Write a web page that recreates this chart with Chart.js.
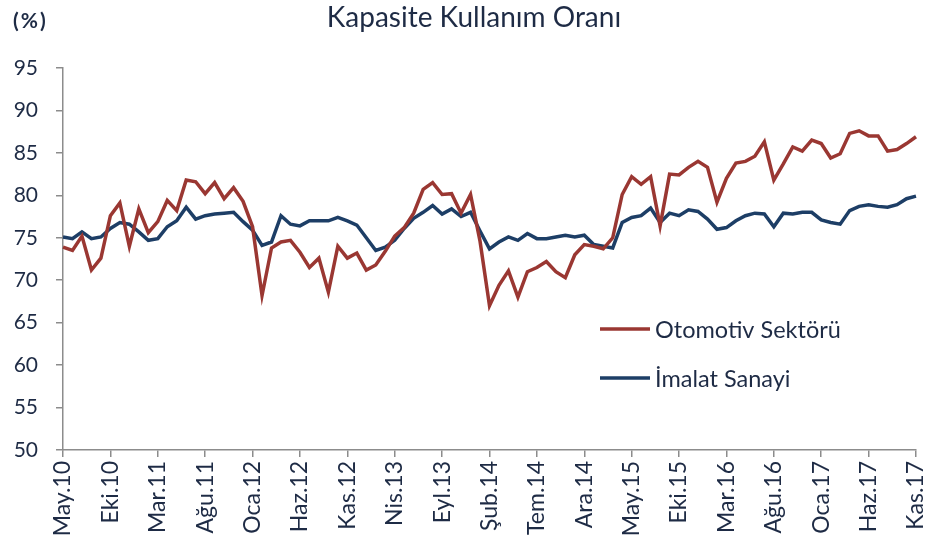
<!DOCTYPE html>
<html>
<head>
<meta charset="utf-8">
<script src="https://cdn.jsdelivr.net/npm/chart.js@4.4.1/dist/chart.umd.min.js"></script>
<style>
html,body{margin:0;padding:0;background:#fff;}
#wrap{position:relative;width:928px;height:550px;}
</style>
</head>
<body>
<div id="wrap"><canvas id="c" width="928" height="550"></canvas></div>
<script>
const monthNames = ["Oca","Şub","Mar","Nis","May","Haz","Tem","Ağu","Eyl","Eki","Kas","Ara"];
const startYear = 2010, startMonth = 4, monthCount = 91;
const categories = [];
for (let k = 0; k < monthCount; k++) {
  const m = (startMonth + k) % 12;
  const y = startYear + Math.floor((startMonth + k) / 12);
  categories.push(monthNames[m] + "." + String(y).slice(2));
}
const otomotiv = [
  73.9,73.5,75.2,71.2,72.6,77.6,79.1,74.0,78.4,75.6,
  76.9,79.4,78.2,81.8,81.6,80.2,81.5,79.6,80.9,79.3,
  76.3,68.2,73.8,74.5,74.7,73.3,71.5,72.6,68.6,74.0,
  72.6,73.2,71.2,71.8,73.4,75.2,76.2,77.9,80.7,81.5,
  80.1,80.2,77.9,80.1,74.6,67.0,69.4,71.1,68.0,71.0,
  71.5,72.2,71.0,70.3,73.0,74.2,74.0,73.7,75.0,80.1,
  82.2,81.3,82.2,76.4,82.5,82.4,83.3,84.0,83.3,79.2,
  82.0,83.8,84.0,84.6,86.3,81.8,83.7,85.7,85.2,86.5,
  86.1,84.4,84.9,87.3,87.6,87.0,87.0,85.2,85.4,86.1,
  86.9
];
const imalat = [
  75.1,74.9,75.7,74.9,75.1,76.1,76.8,76.6,75.7,74.7,
  74.9,76.3,77.0,78.6,77.2,77.6,77.8,77.9,78.0,76.9,
  75.9,74.1,74.5,77.6,76.6,76.4,77.0,77.0,77.0,77.4,
  77.0,76.5,75.0,73.5,73.9,74.7,76.1,77.3,78.0,78.8,
  77.8,78.4,77.5,78.0,75.8,73.7,74.5,75.1,74.7,75.5,
  74.9,74.9,75.1,75.3,75.1,75.3,74.2,74.0,73.8,76.8,
  77.4,77.6,78.5,76.8,77.9,77.6,78.3,78.1,77.2,76.0,
  76.2,77.0,77.6,77.9,77.8,76.3,77.9,77.8,78.0,78.0,
  77.1,76.8,76.6,78.2,78.7,78.9,78.7,78.6,78.9,79.6,
  79.9
];
const seriesNames = ["Otomotiv Sektörü","İmalat Sanayi"];
const yTicks = [50,55,60,65,70,75,80,85,90,95];
const titleText = "Kapasite Kullanım Oranı";
const unitText = "(%)";

const textColor = "#1e2b45";
const FONT = "Lato, 'Open Sans', sans-serif";

const overlay = {
  id: "overlay",
  afterDraw(chart) {
    const ctx = chart.ctx;
    ctx.save();
    ctx.fillStyle = textColor;
    ctx.textBaseline = "middle";
    ctx.font = "28px " + FONT;
    ctx.textAlign = "center";
    ctx.fillText(titleText, 474, 18);
    ctx.textAlign = "left";
    ctx.font = "bold 21px " + FONT;
    ctx.letterSpacing = "2px";
    ctx.fillText(unitText, 13, 21);
    ctx.letterSpacing = "0px";
    // legend
    const lx = 600, ly = [329, 378];
    chart.data.datasets.forEach((ds, i) => {
      ctx.strokeStyle = ds.borderColor;
      ctx.lineWidth = 3.5;
      ctx.beginPath();
      ctx.moveTo(lx, ly[i]);
      ctx.lineTo(lx + 50, ly[i]);
      ctx.stroke();
      ctx.fillStyle = textColor;
      ctx.font = "23.5px " + FONT;
      ctx.fillText(ds.label, lx + 55, ly[i] + 1);
    });
    ctx.restore();
  }
};

new Chart(document.getElementById("c"), {
  type: "line",
  data: {
    labels: categories,
    datasets: [
      {label: seriesNames[0], data: otomotiv, borderColor: "#9a3732", borderWidth: 3.5, pointRadius: 0, tension: 0, fill: false},
      {label: seriesNames[1], data: imalat, borderColor: "#1d3e66", borderWidth: 3.5, pointRadius: 0, tension: 0, fill: false}
    ]
  },
  options: {
    responsive: false,
    animation: false,
    devicePixelRatio: 1,
    layout: {padding: {left: 0, right: 0, top: 68, bottom: 0}},
    plugins: {legend: {display: false}, title: {display: false}, tooltip: {enabled: false}},
    scales: {
      x: {
        type: "category",
        offset: false,
        afterFit(s) { s.height = 100; s.paddingRight = 12; s.paddingLeft = 0; },
        border: {display: true, color: "#8c8c8c", width: 1.5},
        grid: {display: true, drawOnChartArea: false, drawTicks: true, tickLength: 7, color: "#8c8c8c", lineWidth: 1.5},
        ticks: {
          autoSkip: false, maxRotation: 90, minRotation: 90, padding: 4,
          color: textColor, font: {family: FONT, size: 23},
          callback(v, i) { return i % 5 === 0 ? categories[i] : null; }
        }
      },
      y: {
        min: 50, max: 95,
        afterFit(s) { s.width = 63; },
        afterBuildTicks(s) { s.ticks = yTicks.map(v => ({value: v})); },
        border: {display: true, color: "#8c8c8c", width: 1.5},
        grid: {display: true, drawOnChartArea: false, drawTicks: true, tickLength: 7, color: "#8c8c8c", lineWidth: 1.5},
        ticks: {padding: 18, color: textColor, font: {family: FONT, size: 21}}
      }
    }
  },
  plugins: [overlay]
});
</script>
</body>
</html>
